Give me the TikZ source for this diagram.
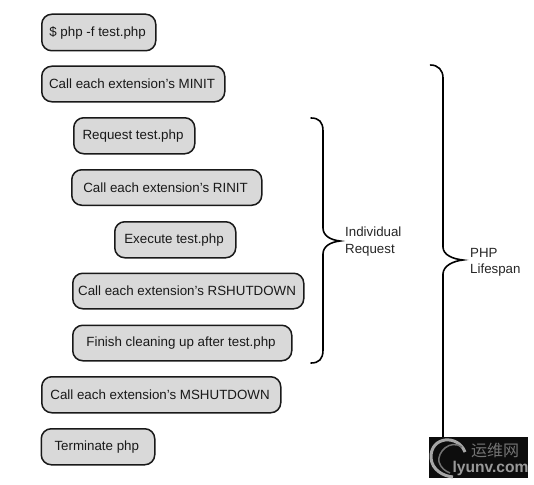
\documentclass[tikz,border=0pt]{standalone}
\usepackage{fontspec}
\setmainfont{Liberation Sans}
\newfontfamily\cjkfont{Noto Sans CJK SC}
\tikzset{
  x=1pt,y=-1pt,
  stepbox/.style={draw=black!90,line width=1.5pt,fill=black!15,rounded corners=10pt,inner sep=0pt,anchor=north west},
  boxtext/.style={font=\fontsize{13.35}{15}\selectfont,text=black!90,xshift=-1.2pt},
  bracepath/.style={draw=black,line width=1.6pt,line cap=round},
  sidelabel/.style={font=\fontsize{13.3}{16.5}\selectfont,align=left,anchor=west,inner sep=0pt,text=black!85},
}
\newcommand{\stepnode}[6]{% name, x1, y1, x2, y2, text
  \pgfmathsetmacro{\boxw}{#4-#2}\pgfmathsetmacro{\boxh}{#5-#3}
  \node[stepbox,minimum width=\boxw pt,minimum height=\boxh pt] (#1) at (#2,#3) {};
  \node[boxtext] at (#1.center) {#6};
}
\begin{document}
\begin{tikzpicture}
\useasboundingbox (0,0) rectangle (534,484);
\fill[white] (0,0) rectangle (534,484);
\stepnode{a}{41}{13.5}{155}{50}{\$ php -f test.php}
\stepnode{b}{41}{65.5}{224}{101}{Call each extension’s MINIT}
\stepnode{c}{73}{117}{194}{153}{Request test.php}
\stepnode{d}{71}{169}{261}{204.5}{Call each extension’s RINIT}
\stepnode{e}{114}{221}{235}{257}{Execute test.php}
\stepnode{f}{72}{272.5}{303}{308}{Call each extension’s RSHUTDOWN}
\stepnode{g}{72}{324.5}{291}{360}{Finish cleaning up after test.php}
\stepnode{h}{41}{376}{280}{412}{Call each extension’s MSHUTDOWN}
\stepnode{i}{40.5}{428}{154}{464}{Terminate php}
% braces
\path[bracepath] (311,118) .. controls (319,118) and (323,122) .. (323,131)
  -- (323,228) .. controls (323,236) and (331,240) .. (340,241)
  .. controls (331,242) and (323,246) .. (323,254)
  -- (323,350) .. controls (323,359) and (319,363) .. (311,363);
\path[bracepath] (430.5,65) .. controls (438,65) and (443,70) .. (443,78)
  -- (443,247) .. controls (443,255) and (453,259) .. (463,260)
  .. controls (453,261) and (443,266) .. (443,274)
  -- (443,440);
\node[sidelabel] (ir) at (345,241.5) {Individual\\Request};
\node[sidelabel] (pl) at (470,262.5) {PHP\\Lifespan};
% watermark
\fill[black!95] (429,437) rectangle (528,478);
\draw[black!35,line width=3pt] (465,452) .. controls (458,434) and (430,436) .. (431,458) .. controls (432,470) and (443,476) .. (453,477);
\draw[black!55,line width=1.5pt] (462,447) .. controls (450,439) and (437,452) .. (439,462) .. controls (441,468) and (445,471) .. (450,473);
\node[font=\cjkfont\fontsize{16}{17}\selectfont,text=black!55,inner sep=0pt] (wm1) at (495,450) {运维网};
\node[font=\fontsize{15.6}{16}\selectfont\bfseries,text=black!40,inner sep=0pt] (wm2) at (490.5,468) {lyunv.com};
\end{tikzpicture}
\end{document}
